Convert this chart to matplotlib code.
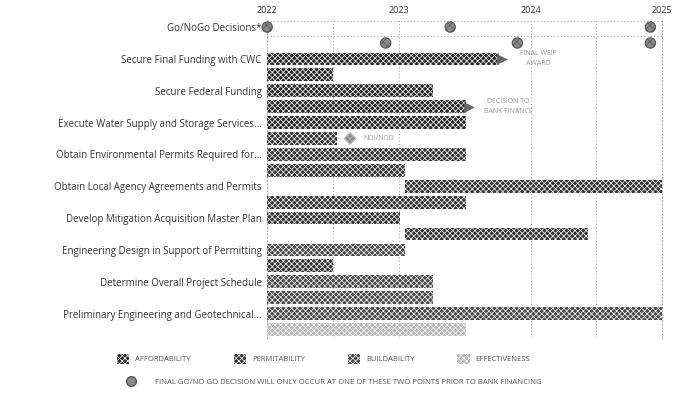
import numpy as np
import matplotlib.pyplot as plt
from matplotlib.patches import Patch
from matplotlib.lines import Line2D

plt.rcParams['font.family'] = ['Open Sans', 'DejaVu Sans']
plt.rcParams['hatch.color'] = 'white'
plt.rcParams['hatch.linewidth'] = 0.5

# task labels (one per pair of sub-rows)
tasks = ['Go/NoGo Decisions*',
         'Secure Final Funding with CWC',
         'Secure Federal Funding',
         'Execute Water Supply and Storage Services...',
         'Obtain Environmental Permits Required for...',
         'Obtain Local Agency Agreements and Permits',
         'Develop Mitigation Acquisition Master Plan',
         'Engineering Design in Support of Permitting',
         'Determine Overall Project Schedule',
         'Preliminary Engineering and Geotechnical...']

# bars: sub-row index, start (year), end (year), criterion
bar_rows = [2, 3, 4, 5, 6, 7, 8, 9, 10, 11, 12, 13, 14, 15, 16, 17, 18, 19]
bar_start = [2022.0, 2022.0, 2022.0, 2022.0, 2022.0, 2022.0, 2022.0, 2022.0, 2023.05,
             2022.0, 2022.0, 2023.05, 2022.0, 2022.0, 2022.0, 2022.0, 2022.0, 2022.0]
bar_end = [2023.76, 2022.5, 2023.26, 2023.51, 2023.51, 2022.53, 2023.51, 2023.05, 2025.0,
           2023.51, 2023.01, 2024.44, 2023.05, 2022.5, 2023.26, 2023.26, 2025.0, 2023.51]
bar_kind = ['Affordability', 'Affordability', 'Affordability', 'Affordability', 'Affordability',
            'Permitability', 'Permitability', 'Permitability', 'Permitability',
            'Permitability', 'Permitability', 'Permitability', 'Buildability', 'Permitability',
            'Buildability', 'Buildability', 'Buildability', 'Effectiveness']

# go / no go decision points
gonogo_row = [0, 0, 0, 1, 1, 1]
gonogo_x = [2022.0, 2023.39, 2024.91, 2022.9, 2023.9, 2024.91]

kinds = ['Affordability', 'Permitability', 'Buildability', 'Effectiveness']
colors = {'Affordability': '#2a2a2a', 'Permitability': '#353535',
          'Buildability': '#4a4a4a', 'Effectiveness': '#b5b5b5'}

fig = plt.figure(figsize=(6.73, 3.98), dpi=100)
ax = fig.add_axes([0.397, 0.152, 0.587, 0.8])

for r, s, e, k in zip(bar_rows, bar_start, bar_end, bar_kind):
    ax.barh(r, e - s, left=s, height=0.8, color=colors[k], hatch='xxxxxx',
            edgecolor='white', linewidth=0, zorder=3)

# arrow tips on two bars
for r, e in [(2, 2023.76), (5, 2023.51)]:
    ax.scatter([e + 0.02], [r], marker='>', s=60, color='#666666', zorder=4,
               linewidths=0)

# milestone diamond
ax.scatter([2022.63], [7], marker='D', s=35, facecolor='#888888', edgecolor='#bbbbbb',
           hatch='xxx', zorder=4)
ax.text(2022.73, 7, 'NOI/NOD', fontsize=5, color='#999999', va='center', ha='left')
ax.text(2024.06, 2, 'FINAL WSIP\nAWARD', fontsize=5, color='#999999', va='center',
        ha='center', linespacing=1.6)
ax.text(2023.83, 5, 'DECISION TO\nBANK FINANCE', fontsize=5, color='#999999', va='center',
        ha='center', linespacing=1.6)

ax.scatter(gonogo_x, gonogo_row, marker='o', s=55, facecolor='#8a8a8a',
           edgecolor='#555555', hatch='xxxx', linewidths=0.8, zorder=5, clip_on=False)

ax.set_xlim(2022, 2025)
ax.set_ylim(19.5, -0.5)
ax.set_yticks(np.arange(0, 20, 2))
ax.set_yticklabels(tasks, fontsize=7, color='#333333')
ax.set_xticks([2022, 2023, 2024, 2025])
ax.set_xticklabels(['2022', '2023', '2024', '2025'], fontsize=6.5, color='#333333')
ax.xaxis.tick_top()
ax.tick_params(length=0, pad=3)
ax.tick_params(axis='y', pad=4)

for gx in [2022.5, 2023.0, 2024.0, 2024.5]:
    ax.axvline(gx, color='#aaaaaa', linestyle=(0, (1, 2)), linewidth=0.8, zorder=1)
ax.axhline(0.55, color='#aaaaaa', linestyle=(0, (1, 2)), linewidth=0.8, zorder=1)
ax.axhline(-0.38, color='#aaaaaa', linestyle=(0, (1, 2)), linewidth=0.8, zorder=1)
for side in ['left', 'right']:
    ax.spines[side].set_linestyle((0, (1, 2)))
    ax.spines[side].set_color('#aaaaaa')
    ax.spines[side].set_linewidth(0.8)
ax.spines['top'].set_visible(False)
ax.spines['bottom'].set_visible(False)

handles = [Patch(facecolor=colors[k], hatch='xxxxxx', edgecolor='white', linewidth=0)
           for k in kinds]
fig.legend(handles, [k.upper() for k in kinds], loc='center', ncol=4,
           bbox_to_anchor=(0.481, 0.098), frameon=False, fontsize=5.5,
           columnspacing=5.6, handlelength=1.6, handleheight=1.6,
           labelcolor='#555555')
mk = Line2D([], [], marker='o', linestyle='none', markersize=7, markerfacecolor='#8a8a8a',
            markeredgecolor='#555555')
fig.legend([mk], ['FINAL GO/NO GO DECISION WILL ONLY OCCUR AT ONE OF THESE TWO POINTS PRIOR TO BANK FINANCING'],
           loc='center', bbox_to_anchor=(0.494, 0.04), frameon=False, fontsize=5.6,
           labelcolor='#555555', handletextpad=2)

fig.savefig('out.png', dpi=100)
